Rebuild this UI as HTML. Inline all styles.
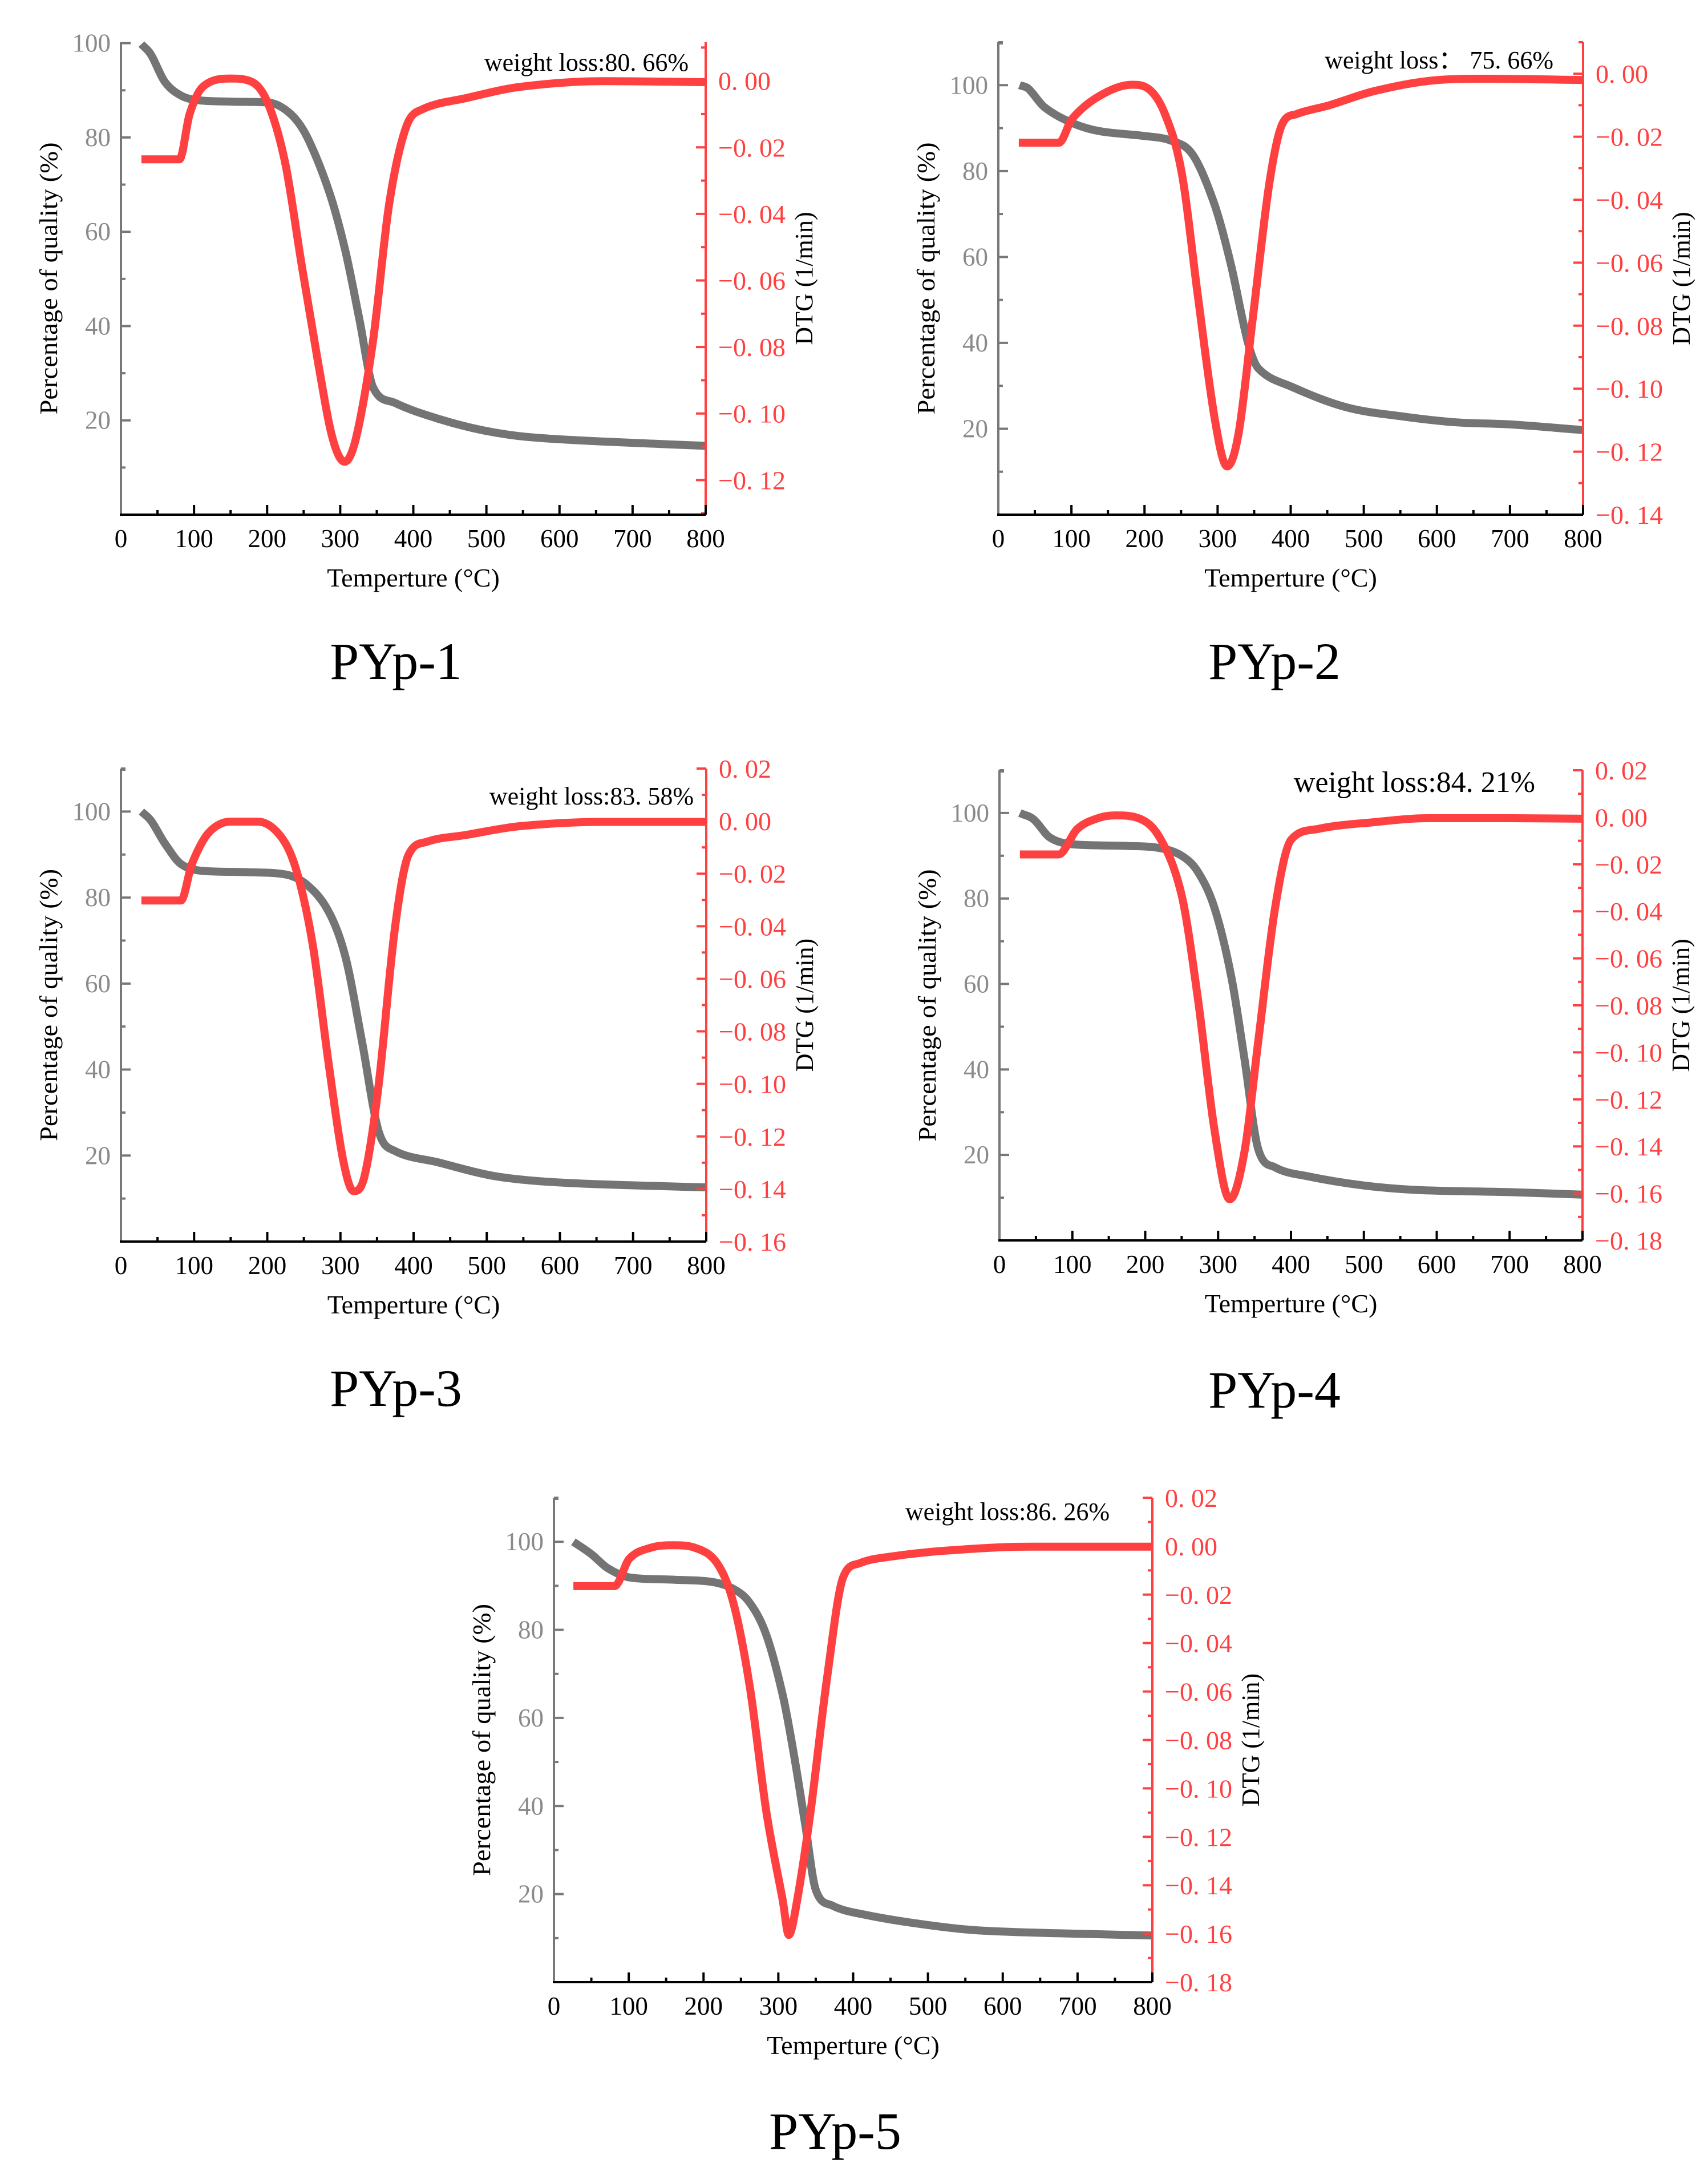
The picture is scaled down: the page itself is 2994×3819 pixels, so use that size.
<!DOCTYPE html>
<html><head><meta charset="utf-8"><style>
html,body{margin:0;padding:0;background:#fff;}
svg{display:block;font-family:"Liberation Serif",serif;}
</style></head><body>
<svg id="fig" width="2994" height="3819" viewBox="0 0 2994 3819" xmlns="http://www.w3.org/2000/svg"></svg>
<script>
// ---------- data ----------
const p1T   = [28,41,60,82,105,150,202,232,255,285,307,326,345,375,435,495,555,660,800];
const p1TG  = [99.8,97.6,91.8,88.9,87.9,87.6,87.4,85,80,68.4,56,41.6,27,23.7,20.3,17.9,16.5,15.5,14.6];
const p1DT  = [28,80,94,112,150,180,202,225,247,270,289,306,322,345,367,390,412,472,547,660,800];
const p1DTG = [-0.0236,-0.0236,-0.010,-0.0018,0.0007,-0.0004,-0.0072,-0.025,-0.055,-0.085,-0.107,-0.1145,-0.107,-0.078,-0.037,-0.014,-0.0086,-0.0052,-0.0018,-0.0001,-0.0004];

const p2T   = [29,41,63,101,138,198,236,266,296,318,341,356,401,476,551,626,701,800];
const p2TG  = [100,99.2,94.9,91.2,89.3,88.2,87.1,83.8,72.1,58.4,40.4,34,29.8,25,22.9,21.5,21,19.7];
const p2DT  = [28,83,101,138,183,206,228,251,273,296,313,329,348,371,389,408,453,513,588,663,800];
const p2DTG = [-0.0219,-0.0219,-0.0143,-0.0071,-0.0035,-0.0049,-0.0128,-0.0316,-0.0706,-0.1095,-0.1247,-0.1138,-0.0778,-0.0345,-0.0157,-0.0128,-0.010,-0.0056,-0.0023,-0.0016,-0.002];

const p3T   = [28,41,60,82,112,172,224,254,284,307,329,352,374,434,508,583,695,800];
const p3TG  = [100,97.9,92.6,87.8,86.2,85.9,85.4,83,76.7,66.1,47,25.8,21.1,18.4,15.3,13.9,13.1,12.6];
const p3DT  = [28,82,97,120,150,187,217,239,262,284,303,318,333,352,374,393,419,471,546,658,800];
const p3DTG = [-0.0302,-0.0302,-0.0163,-0.0044,-0.0002,-0.0002,-0.0053,-0.018,-0.0468,-0.0925,-0.128,-0.1408,-0.135,-0.101,-0.0417,-0.0129,-0.0078,-0.0053,-0.0019,-0.0003,-0.0003];

const p4T   = [28,47,69,99,175,220,250,272,295,318,336,355,378,423,498,573,701,800];
const p4TG  = [100,98.5,94.3,92.7,92.3,91.8,90,86.3,77.8,61.8,42.7,21.4,17.1,15,12.9,11.8,11.3,10.7];
const p4DT  = [28,81,107,137,160,189,220,250,272,295,316,336,355,378,400,438,513,588,701,800];
const p4DTG = [-0.0158,-0.0158,-0.0049,-0.0002,0.0008,-0.0002,-0.0087,-0.0332,-0.0766,-0.133,-0.1625,-0.1426,-0.0955,-0.0389,-0.0096,-0.0049,-0.0021,-0.0004,-0.0004,-0.0006];

const p5T   = [26,50,72,101,160,211,240,262,284,306,321,336,350,372,416,490,563,673,800];
const p5TG  = [100,97.2,94,91.9,91.4,90.9,89.3,86.1,78.8,65.1,51.5,35.7,21,17.4,15.3,13.2,11.8,11.1,10.6];
const p5DT  = [26,81,101,130,160,189,218,240,262,284,306,314,325,343,365,387,409,453,526,636,800];
const p5DTG = [-0.0165,-0.0165,-0.0051,-0.0006,0.0004,-0.0007,-0.007,-0.0235,-0.0583,-0.1097,-0.1464,-0.1605,-0.1464,-0.1097,-0.0547,-0.0125,-0.007,-0.0042,-0.0018,-0.0002,-0.0002];

const xTicks = [0,100,200,300,400,500,600,700,800];
const tgTicks = [20,40,60,80,100];
const titles = ["PYp-1","PYp-2","PYp-3","PYp-4","PYp-5"];
const lossLabels = ["weight loss:80. 66%","weight loss\uff1a 75. 66%","weight loss:83. 58%","weight loss:84. 21%","weight loss:86. 26%"];

// ---------- layout ----------
const panels = [
 {L:212,R:1237,T:74,B:902,ymax:100.2,dmax:0.0116,dmin:-0.1304,dl:[0,-0.12],tx:694,ty:1190,wx:1207,wy:124,wf:44,T_:p1T,TG:p1TG,DT:p1DT,DG:p1DTG},
 {L:1750,R:2775,T:74,B:902,ymax:110,dmax:0.01,dmin:-0.14,dl:[0,-0.14],tx:2234,ty:1190,wx:2723,wy:120,wf:44,T_:p2T,TG:p2TG,DT:p2DT,DG:p2DTG},
 {L:212,R:1238,T:1347,B:2176,ymax:110,dmax:0.02,dmin:-0.16,dl:[0.02,-0.16],tx:694,ty:2464,wx:1216,wy:1410,wf:44,T_:p3T,TG:p3TG,DT:p3DT,DG:p3DTG},
 {L:1752,R:2774,T:1350,B:2174,ymax:110,dmax:0.02,dmin:-0.18,dl:[0.02,-0.18],tx:2234,ty:2467,wx:2691,wy:1388,wf:52,T_:p4T,TG:p4TG,DT:p4DT,DG:p4DTG},
 {L:971,R:2020,T:2625,B:3474,ymax:110,dmax:0.02,dmin:-0.18,dl:[0.02,-0.18],tx:1464,ty:3766,wx:1945,wy:2664,wf:44,T_:p5T,TG:p5TG,DT:p5DT,DG:p5DTG}
];

const svg = document.getElementById('fig');
const NS = 'http://www.w3.org/2000/svg';
function mk(tag, attrs, parent){
  const e = document.createElementNS(NS, tag);
  for (const k in attrs) e.setAttribute(k, attrs[k]);
  (parent||svg).appendChild(e);
  return e;
}
function fmtD(v){
  const a = Math.abs(v).toFixed(2).replace('.', '. ');
  return (v < -1e-9 ? '\u2212' : '') + a;
}
// smooth cubic with centered tangents, limited to prevent overshoot
function smoothPath(pts){
  const n = pts.length;
  const dx = [], m = [], t = new Array(n);
  for (let i=0;i<n-1;i++){ dx[i]=pts[i+1][0]-pts[i][0]; m[i]=(pts[i+1][1]-pts[i][1])/dx[i]; }
  t[0]=m[0]; t[n-1]=m[n-2];
  for (let i=1;i<n-1;i++){
    if (m[i-1]*m[i] <= 0) { t[i]=0; continue; }
    let c = (pts[i+1][1]-pts[i-1][1])/(pts[i+1][0]-pts[i-1][0]);
    const lim = 3*Math.min(Math.abs(m[i-1]),Math.abs(m[i]));
    if (Math.abs(c) > lim) c = Math.sign(c)*lim;
    t[i]=c;
  }
  let d = 'M' + pts[0][0].toFixed(1) + ',' + pts[0][1].toFixed(1);
  for (let i=0;i<n-1;i++){
    const h = dx[i]/3;
    d += ' C'+(pts[i][0]+h).toFixed(1)+','+(pts[i][1]+t[i]*h).toFixed(1)+' '+(pts[i+1][0]-h).toFixed(1)+','+(pts[i+1][1]-t[i+1]*h).toFixed(1)+' '+pts[i+1][0].toFixed(1)+','+pts[i+1][1].toFixed(1);
  }
  return d;
}

panels.forEach((p, idx) => {
  const g = mk('g', {});
  
  
  const xS = t => p.L + (t/800)*(p.R-p.L);
  const yS = v => p.B - (v/p.ymax)*(p.B-p.T);
  const dS = v => p.B - (v-p.dmin)/(p.dmax-p.dmin)*(p.B-p.T);

  const tgPts = p.T_.map((t,i)=>[xS(t), yS(p.TG[i])]);
  const tg = mk('path', {d:smoothPath(tgPts), fill:'none', stroke:'#747474', 'stroke-width':14, 'stroke-linejoin':'round'}, g);
  
  
  const dPts = p.DT.map((t,i)=>[xS(t), dS(p.DG[i])]);
  const dl = mk('path', {d:smoothPath(dPts), fill:'none', stroke:'#ff4040', 'stroke-width':14, 'stroke-linejoin':'round'}, g);
  
  

  const la = mk('line', {x1:p.L, y1:p.T, x2:p.L, y2:p.B, stroke:'#787878', 'stroke-width':4}, g);
  
  
  for (let v=10; v<=p.ymax+0.01; v+=10){
    const major = v%20===0;
    mk('line', {x1:p.L, y1:yS(v), x2:p.L+(major?17:8), y2:yS(v), stroke:'#787878', 'stroke-width':4}, g);
  }
  if (p.ymax > 105) mk('line', {x1:p.L, y1:p.T+2, x2:p.L+8, y2:p.T+2, stroke:'#787878', 'stroke-width':4}, g);
  tgTicks.forEach(v => {
    const t = mk('text', {x:p.L-18, y:yS(v)+15, 'text-anchor':'end', 'font-size':45, fill:'#8a8a8a'}, g);
    t.textContent = v;
    
    
  });

  const ra = mk('line', {x1:p.R, y1:p.T, x2:p.R, y2:p.B, stroke:'#ff4040', 'stroke-width':4}, g);
  
  
  for (let k=-20; k<=5; k++){
    const v = k*0.01;
    if (v < p.dmin-1e-6 || v > p.dmax+1e-6) continue;
    const major = (k%2===0);
    mk('line', {x1:p.R, y1:dS(v), x2:p.R-(major?17:8), y2:dS(v), stroke:'#ff4040', 'stroke-width':4}, g);
  }
  for (let k=Math.round(p.dl[0]*100); k>=Math.round(p.dl[1]*100); k-=2){
    const v = k/100;
    const t = mk('text', {x:p.R+22, y:dS(v)+16, 'font-size':46, fill:'#ff4040'}, g);
    t.textContent = fmtD(v);
    
    
  }

  const ba = mk('line', {x1:p.L-2, y1:p.B, x2:p.R, y2:p.B, stroke:'#000', 'stroke-width':4}, g);
  
  
  for (let v=50; v<=800; v+=50){
    const major = v%100===0;
    mk('line', {x1:xS(v), y1:p.B, x2:xS(v), y2:p.B-(major?17:8), stroke:'#000', 'stroke-width':4}, g);
  }
  xTicks.forEach(v => {
    const t = mk('text', {x:xS(v), y:p.B+57, 'text-anchor':'middle', 'font-size':45, fill:'#000'}, g);
    t.textContent = v;
    
    
  });

  const xt = mk('text', {x:(p.L+p.R)/2, y:p.B+126, 'text-anchor':'middle', 'font-size':46, fill:'#000'}, g);
  xt.textContent = 'Temperture (\u00b0C)';
  
  
  const cy = (p.T+p.B)/2;
  const yt = mk('text', {x:0, y:0, 'text-anchor':'middle', 'font-size':44, fill:'#000', textLength:477, lengthAdjust:'spacingAndGlyphs', transform:'translate('+(p.L-112)+','+cy+') rotate(-90)'}, g);
  yt.textContent = 'Percentage of quality (%)';
  
  
  const dt = mk('text', {x:0, y:0, 'text-anchor':'middle', 'font-size':44, fill:'#000', transform:'translate('+(p.R+187)+','+cy+') rotate(-90)'}, g);
  dt.textContent = 'DTG (1/min)';
  
  
  const wl = mk('text', {x:p.wx, y:p.wy, 'text-anchor':'end', 'font-size':p.wf, fill:'#000'}, g);
  wl.textContent = lossLabels[idx];
  
  
  const pt = mk('text', {x:p.tx, y:p.ty, 'text-anchor':'middle', 'font-size':92, fill:'#000'}, g);
  pt.textContent = titles[idx];
  
  
});
</script>
</body></html>
